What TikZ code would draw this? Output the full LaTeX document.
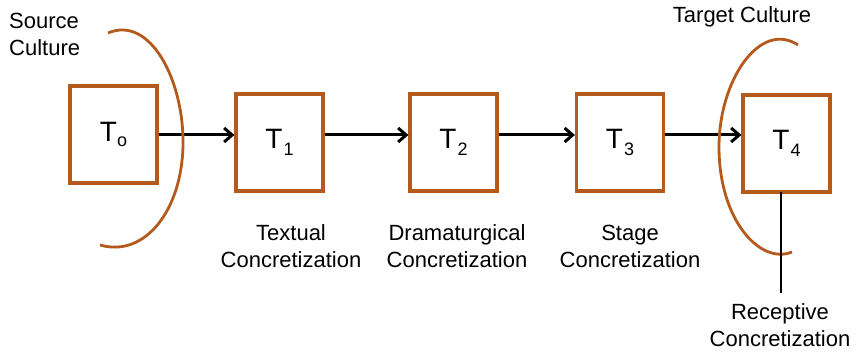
\documentclass[tikz,border=0pt]{standalone}
\usepackage{fontspec}
\setmainfont{Liberation Sans}
\usetikzlibrary{arrows.meta}
\definecolor{brn}{RGB}{180,90,28}
\tikzset{
  tbox/.style={draw=brn, line width=3.2pt, minimum width=87pt, minimum height=97pt, inner sep=0pt, font=\fontsize{28}{30}\selectfont},
  arc/.style={draw=brn, line width=2.8pt},
  conn/.style={draw=black, line width=3pt, -{Straight Barb[length=8pt,width=14pt,line width=3pt]}},
  lbl/.style={align=center, font=\fontsize{22}{27}\selectfont, inner sep=0pt},
}
\newcommand{\subx}[1]{\hspace{1pt}\raisebox{-7pt}{\fontsize{18}{18}\selectfont #1}}
\begin{document}
\begin{tikzpicture}[x=1pt,y=-1pt]
\useasboundingbox (0,0) rectangle (856,352);
\node[tbox] (t0) at (113.5,134.5) {T\raisebox{-5pt}{\fontsize{18}{18}\selectfont o}};
\node[tbox] (t1) at (279.5,142.5) {T\subx{1}};
\node[tbox] (t2) at (453.5,142.5) {T\subx{2}};
\node[tbox] (t3) at (620,142.5) {T\subx{3}};
\node[tbox] (t4) at (786.5,143.5) {T\subx{4}};
\draw[conn] (t0.east |- 0,135) -- (t1.west |- 0,135);
\draw[conn] (t1.east |- 0,135) -- (t2.west |- 0,135);
\draw[conn] (t2.east |- 0,135) -- (t3.west |- 0,135);
\draw[conn] (t3.east |- 0,135) -- (t4.west |- 0,135);
% arcs
\coordinate (s1) at (108,33);
\coordinate (s2) at (100,245);
\draw[arc] (s1) .. controls (150,15) and (184,80) .. (183,145) .. controls (182,210) and (145,258) .. (s2);
\coordinate (g1) at (798,45);
\coordinate (g2) at (792,252);
\draw[arc] (g1) .. controls (760,20) and (719,80) .. (719,147) .. controls (719,220) and (760,265) .. (g2);
% line down
\coordinate (rb) at (781,192);
\coordinate (rc) at (781,293);
\draw[line width=2.2pt] (rb) -- (rc);
% labels
\node[lbl, align=left, anchor=north west] (src) at (9,13) {Source\\Culture};
\node[lbl] (tgt) at (742,17) {Target Culture};
\node[lbl] (l1) at (291,246) {Textual\\Concretization};
\node[lbl] (l2) at (457,246) {Dramaturgical\\Concretization};
\node[lbl] (l3) at (630,246) {Stage\\Concretization};
\node[lbl] (l4) at (780,325) {Receptive\\Concretization};
\end{tikzpicture}
\end{document}
